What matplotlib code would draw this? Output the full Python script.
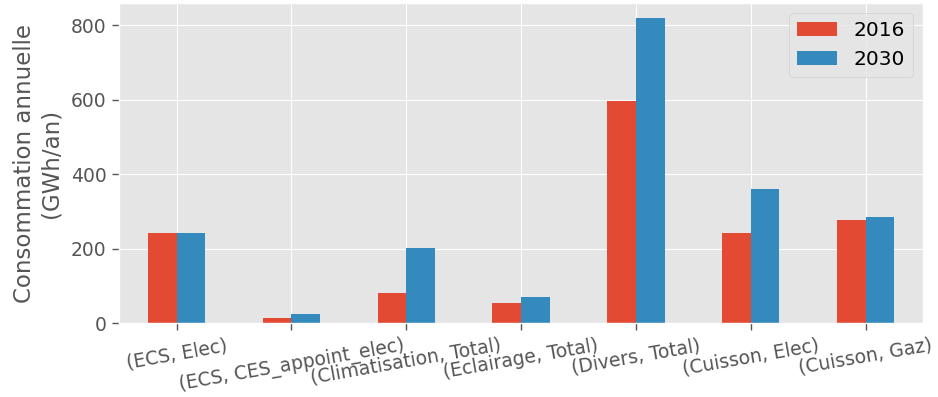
import numpy as np
import matplotlib
matplotlib.use("Agg")
import matplotlib.pyplot as plt

plt.style.use("ggplot")
plt.rcParams["font.size"] = 13

categories = ["(ECS, Elec)", "(ECS, CES_appoint_elec)", "(Climatisation, Total)",
              "(Eclairage, Total)", "(Divers, Total)", "(Cuisson, Elec)", "(Cuisson, Gaz)"]
conso_2016 = [243, 13, 80, 54, 596, 241, 278]
conso_2030 = [243, 24, 203, 70, 818, 361, 286]

x = np.arange(len(categories))
width = 0.25

fig, ax = plt.subplots(figsize=(9.38, 3.97), dpi=100)
ax.bar(x - width / 2, conso_2016, width, label="2016", color="#E24A33")
ax.bar(x + width / 2, conso_2030, width, label="2030", color="#348ABD")

ax.set_xlim(-0.5, len(categories) - 0.5)
ax.set_xticks(x)
ax.set_xticklabels(categories, rotation=10, fontsize=13.5)
ax.tick_params(axis="both", length=5, width=1, color="#555555", labelsize=13.5,
               direction="out", pad=4)
ax.set_ylabel("Consommation annuelle\n(GWh/an)", fontsize=16.5, labelpad=6)
ax.legend(loc="upper right", fontsize=14.5)

fig.subplots_adjust(left=0.127, right=0.984, top=0.992, bottom=0.186)
fig.savefig("out.png", dpi=100)
